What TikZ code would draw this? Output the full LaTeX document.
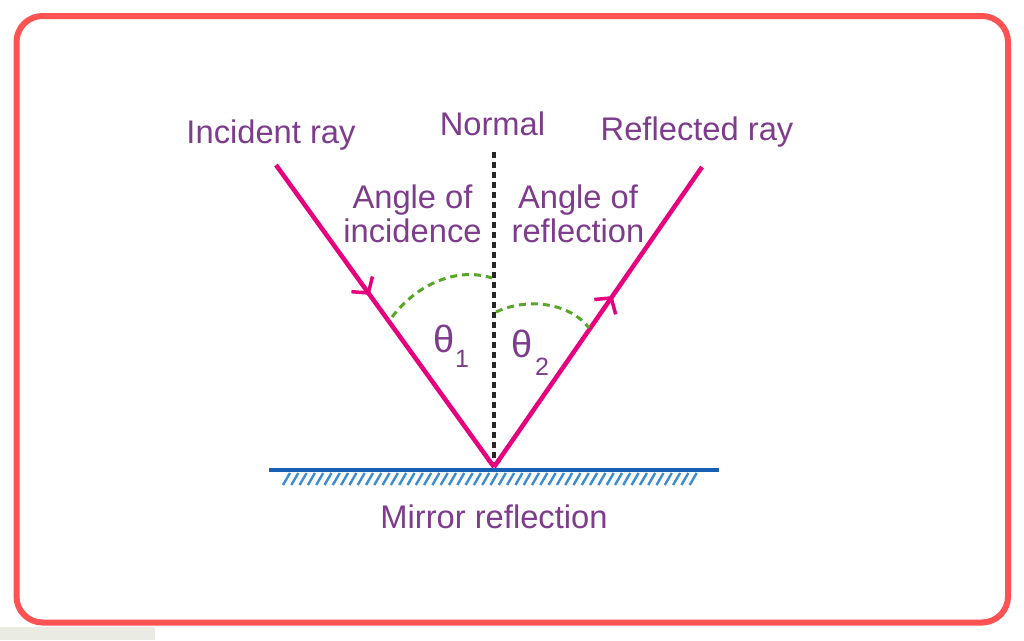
\documentclass[tikz,border=0pt]{standalone}
\usepackage{fontspec}
\setmainfont{Liberation Sans}
\usetikzlibrary{arrows.meta,decorations.markings}
\definecolor{txtc}{RGB}{125,60,140}
\definecolor{rayc}{RGB}{230,0,126}
\definecolor{arcc}{RGB}{90,165,40}
\definecolor{mirc}{RGB}{25,95,180}
\definecolor{hatc}{RGB}{60,140,210}
\definecolor{borderc}{RGB}{255,82,82}
\definecolor{barc}{RGB}{234,235,227}
\tikzset{
  lbl/.style={text=txtc, inner sep=0pt, anchor=base, font=\fontsize{32.7}{34}\selectfont},
  thetalbl/.style={text=txtc, inner sep=0pt, anchor=base, font=\fontsize{38}{38}\selectfont},
  sublbl/.style={text=txtc, inner sep=0pt, anchor=base, font=\fontsize{25}{25}\selectfont},
  ray/.style={draw=rayc, line width=4.5pt},
  barbat/.style={postaction={decorate, decoration={markings,
     mark=at position #1 with {\arrow{Straight Barb[length=11pt,width=26pt,line width=3.5pt]}}}}},
  normalline/.style={draw=black!85, line width=3.2pt, dash pattern=on 6pt off 4pt},
  anglearc/.style={draw=arcc, line width=3pt, dash pattern=on 7pt off 5pt},
  mirror/.style={draw=mirc, line width=4.5pt},
  hatchline/.style={draw=hatc, line width=2.4pt},
}
\begin{document}
\begin{tikzpicture}[x=1pt,y=-1pt]
\useasboundingbox (0,0) rectangle (1024,640);
\fill[white] (0,0) rectangle (1024,640);
\fill[barc] (0,627) rectangle (155,640);
\draw[draw=borderc, line width=6pt, rounded corners=26pt] (16.5,16) rectangle (1008,622.5);

% key points
\coordinate (O) at (494,467);
\coordinate (I) at (276,165);
\coordinate (R) at (702,167);
\coordinate (N) at (494,152);
\coordinate (ML) at (269,470);
\coordinate (MR) at (719,470);

% mirror and hatching
\foreach \i in {0,...,49} {
  \draw[hatchline] (283+\i*8.3,485) -- ++(7,-12);
}
\draw[mirror] (ML) -- (MR);

% normal
\draw[normalline, -{Straight Barb[length=5pt,width=13pt,line width=2.6pt]}] (N) -- (O);

% rays
\draw[ray, barbat=0.43] (I) -- (O);
\draw[ray, barbat=0.57] (O) -- (R);

% angle arcs
\coordinate (a1s) at (392,317);
\coordinate (a1e) at (492,278);
\coordinate (a2s) at (496,312);
\coordinate (a2e) at (589,328);
\draw[anglearc] (a1s) .. controls (418,283) and (458,267) .. (a1e);
\draw[anglearc] (a2s) .. controls (528,297) and (570,303) .. (a2e);

% labels
\node[lbl] (tinc) at (271,143) {Incident ray};
\node[lbl] (tnor) at (492.5,135) {Normal};
\node[lbl] (tref) at (697,140) {Reflected ray};
\node[lbl, align=center] (taoi) at (412.5,242) {Angle of\\incidence};
\node[lbl, align=center] (taor) at (578,242) {Angle of\\reflection};
\node[lbl] (tmir) at (494,528) {Mirror reflection};
\node[thetalbl] (th1) at (444,352) {θ};
\node[sublbl] (s1) at (462,367) {1};
\node[thetalbl] (th2) at (522.5,357) {θ};
\node[sublbl] (s2) at (542,375) {2};
\end{tikzpicture}
\end{document}
